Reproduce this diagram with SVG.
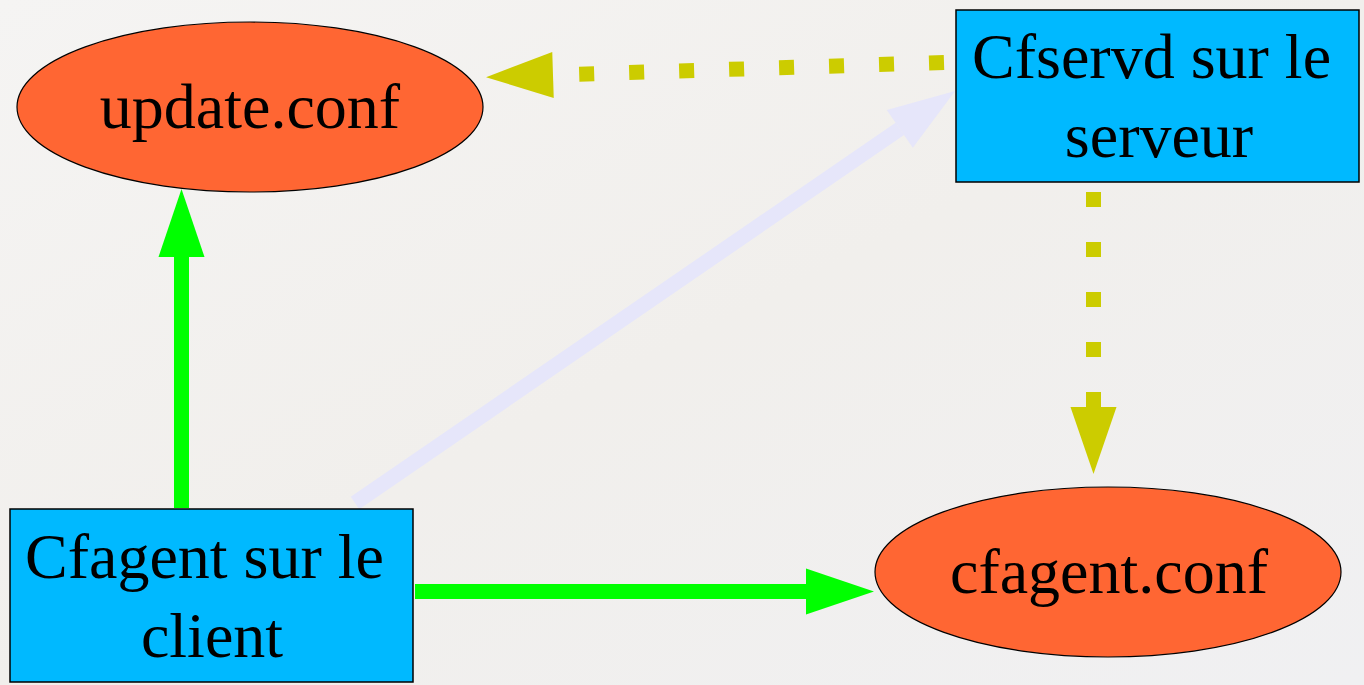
<svg xmlns="http://www.w3.org/2000/svg" width="1364" height="685" viewBox="0 0 1364 685">
  <style>
    .ell { fill: #ff6633; stroke: #000000; stroke-width: 1.2; }
    .box { fill: #00b9ff; stroke: #000000; stroke-width: 1.5; }
    .lbl { font-family: "Liberation Serif", "Times New Roman", serif; font-size: 64px; fill: #000000; }
    .green { stroke: #00ff00; stroke-width: 15; fill: none; }
    .yellow { stroke: #cccc00; stroke-width: 15; fill: none; stroke-dasharray: 15 35; }
    .lav { stroke: #e6e6fa; stroke-width: 15; fill: none; }
  </style>
  <defs>
    <marker id="hGreen" markerUnits="userSpaceOnUse" markerWidth="70" markerHeight="46" refX="0" refY="23" orient="auto" overflow="visible">
      <path d="M0,0 L68,23 L0,46 z" fill="#00ff00"/>
    </marker>
    <marker id="hYellow" markerUnits="userSpaceOnUse" markerWidth="70" markerHeight="46" refX="0" refY="23" orient="auto" overflow="visible">
      <path d="M0,0 L67,23 L0,46 z" fill="#cccc00"/>
    </marker>
    <marker id="hLav" markerUnits="userSpaceOnUse" markerWidth="70" markerHeight="46" refX="0" refY="23" orient="auto" overflow="visible">
      <path d="M0,0 L67,23 L0,46 z" fill="#e6e6fa"/>
    </marker>
    <linearGradient id="bg" x1="0" y1="0" x2="1" y2="1">
      <stop offset="0" stop-color="#f5f4f3"/>
      <stop offset="0.5" stop-color="#f1efec"/>
      <stop offset="1" stop-color="#f0f0f2"/>
    </linearGradient>
  </defs>
  <rect x="0" y="0" width="1364" height="685" fill="url(#bg)"/>

  <g id="connectors">
    <path class="green" d="M181.5,508 L181.5,257" marker-end="url(#hGreen)"/>
    <path class="green" d="M415,591.5 L806,591.5" marker-end="url(#hGreen)"/>
    <path class="lav" d="M355,503 L899.8,128.9" marker-end="url(#hLav)"/>
    <path class="yellow" d="M944,62.5 L553,75" marker-end="url(#hYellow)"/>
    <path class="yellow" d="M1093.5,192 L1093.5,407" marker-end="url(#hYellow)"/>
  </g>

  <g id="update-conf">
    <ellipse class="ell" cx="250" cy="107" rx="233" ry="85"/>
    <text class="lbl" x="250" y="128" text-anchor="middle">update.conf</text>
  </g>

  <g id="cfservd">
    <rect class="box" x="956" y="10" width="403" height="172"/>
    <text class="lbl" x="972" y="78">Cfservd sur le</text>
    <text class="lbl" x="1159" y="157" text-anchor="middle">serveur</text>
  </g>

  <g id="cfagent">
    <rect class="box" x="10" y="509" width="403" height="173"/>
    <text class="lbl" x="25" y="578">Cfagent sur le</text>
    <text class="lbl" x="212" y="657" text-anchor="middle">client</text>
  </g>

  <g id="cfagent-conf">
    <ellipse class="ell" cx="1108" cy="572" rx="233" ry="85"/>
    <text class="lbl" x="1109" y="593" text-anchor="middle">cfagent.conf</text>
  </g>
</svg>
